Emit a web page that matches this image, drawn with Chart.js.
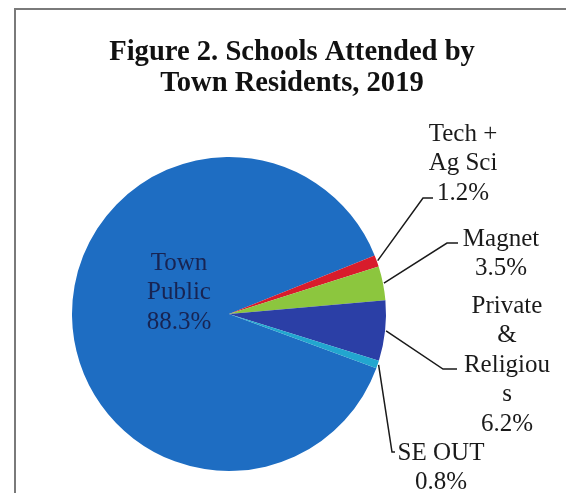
<!DOCTYPE html>
<html>
<head>
<meta charset="utf-8">
<title>Schools Attended by Town Residents, 2019</title>
<script src="https://cdn.jsdelivr.net/npm/chart.js@4.4.1/dist/chart.umd.min.js"></script>
<style>
	html, body { margin: 0; padding: 0; background: #fff; }
	#wrap { width: 566px; height: 493px; }
</style>
</head>
<body>
<div id="wrap"><canvas id="pieSchools" width="566" height="493"></canvas></div>
<script>
// data
const categories = ['Town Public', 'Tech + Ag Sci', 'Magnet', 'Private & Religious', 'SE OUT'];
const shares = [88.3, 1.2, 3.5, 6.2, 0.8];
const sliceColors = ['#1e6dc2', '#d81c2c', '#8cc63e', '#2b3fa6', '#22a6cf'];
// category names as they wrap in the labels
const labelLines = [
	['Town', 'Public'],
	['Tech +', 'Ag Sci'],
	['Magnet'],
	['Private', '&', 'Religiou', 's'],
	['SE OUT']
];
const titleLines = ['Figure 2. Schools Attended by', 'Town Residents, 2019'];

// where each label block sits (center x, first line y) and its leader elbow
const labelLayout = [
	{ x: 179, y: 263, inside: true },
	{ x: 463, y: 134, elbow: [423, 198], tail: 433 },
	{ x: 501, y: 239, elbow: [447, 243], tail: 458 },
	{ x: 507, y: 306, elbow: [443, 369], tail: 457 },
	{ x: 441, y: 453, elbow: [392, 452], tail: 395 }
];

/**
 * 제목, 테두리, 라벨 + 지시선
 */
const figureDecor = {
	id: 'figureDecor',
	afterDraw(chart) {
		const ctx = chart.ctx;
		const meta = chart.getDatasetMeta(0);
		ctx.save();

		// frame (top + left only)
		ctx.strokeStyle = '#7a7a7a';
		ctx.lineWidth = 2;
		ctx.beginPath();
		ctx.moveTo(15, 493);
		ctx.lineTo(15, 9);
		ctx.lineTo(566, 9);
		ctx.stroke();

		// title
		ctx.fillStyle = '#111';
		ctx.textAlign = 'center';
		ctx.textBaseline = 'middle';
		ctx.font = 'bold 28.6px "Liberation Serif", "Times New Roman", serif';
		titleLines.forEach((t, i) => ctx.fillText(t, 292, 53 + i * 31));

		// labels
		ctx.font = '25px "Liberation Serif", "Times New Roman", serif';
		const lh = 29.5;
		labelLayout.forEach((lay, i) => {
			const lines = labelLines[i].concat([shares[i].toFixed(1) + '%']);
			ctx.fillStyle = lay.inside ? '#182452' : '#1a1a1a';
			lines.forEach((t, k) => ctx.fillText(t, lay.x, lay.y + k * lh));

			if (!lay.elbow) return;
			const arc = meta.data[i];
			const mid = (arc.startAngle + arc.endAngle) / 2;
			const r = arc.outerRadius + 1;
			ctx.strokeStyle = '#1a1a1a';
			ctx.lineWidth = 1.5;
			ctx.beginPath();
			ctx.moveTo(arc.x + Math.cos(mid) * r, arc.y + Math.sin(mid) * r);
			ctx.lineTo(lay.elbow[0], lay.elbow[1]);
			ctx.lineTo(lay.tail, lay.elbow[1]);
			ctx.stroke();
		});
		ctx.restore();
	}
};

const pieChart = new Chart(document.getElementById('pieSchools'), {
	type: 'pie',
	data: {
		labels: categories,
		datasets: [{
			data: shares,
			backgroundColor: sliceColors,
			borderWidth: 0,
			hoverOffset: 0
		}]
	},
	options: {
		responsive: false,
		maintainAspectRatio: false,
		devicePixelRatio: 1,
		animation: false,
		events: [],
		rotation: 110.2,
		layout: {
			padding: { left: 72, right: 180, top: 157, bottom: 22 }
		},
		plugins: {
			legend: { display: false },
			tooltip: { enabled: false },
			title: { display: false }
		}
	},
	plugins: [figureDecor]
});
</script>
</body>
</html>
